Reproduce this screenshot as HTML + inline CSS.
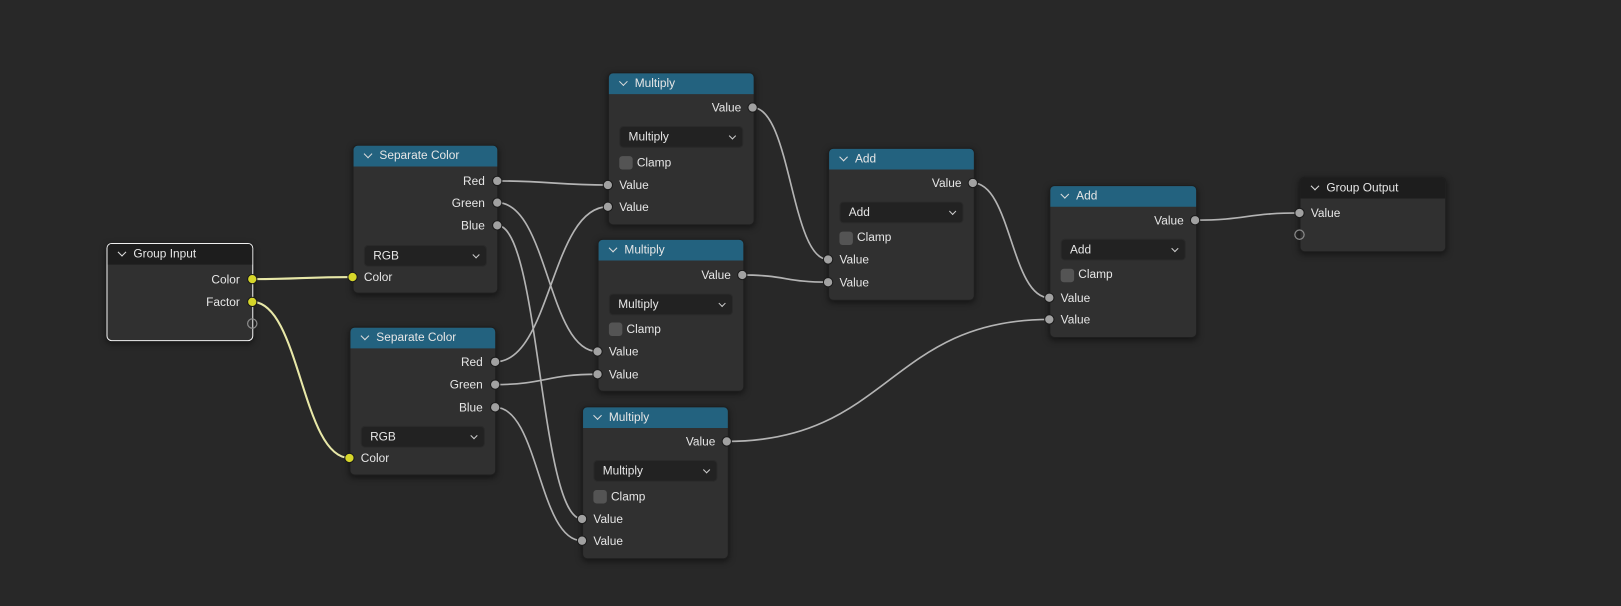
<!DOCTYPE html>
<html><head><meta charset="utf-8"><style>
body{margin:0;width:1621px;height:606px;background:#282828;overflow:hidden;font-family:"Liberation Sans","DejaVu Sans",sans-serif;font-size:11.5px;color:#e6e6e6;position:relative}
#w{position:absolute;left:0;top:0;width:1568px;height:586px;transform:scale(1.0338);transform-origin:0 0}
.n{position:absolute;background:#303030;border-radius:5px;box-shadow:0 2px 6px rgba(0,0,0,.5);border:1px solid #1e1e1e}
.h{position:absolute;left:0;right:0;top:0;height:20px;background:#23627f;border-radius:4px 4px 0 0;}
.h.g{background:#1d1d1d}
.h span{position:absolute;left:25px;top:4px;font-size:11.5px}
.h i{position:absolute;left:11px;top:5px;width:5px;height:5px;border-right:1.3px solid #ddd;border-bottom:1.3px solid #ddd;transform:rotate(45deg)}
.l{position:absolute;line-height:14px;white-space:nowrap}
.r{right:12px;text-align:right}
.in{left:10px}
.dd{position:absolute;left:10px;right:10px;height:19px;background:#222;border:1px solid #2a2a2a;border-radius:4px}
.dd span{position:absolute;left:8px;top:4px}
.dd i{position:absolute;right:7px;top:6px;width:4px;height:4px;border-right:1.2px solid #ccc;border-bottom:1.2px solid #ccc;transform:rotate(45deg)}
.cb{position:absolute;left:10px;width:13px;height:13px;background:#545454;border-radius:3px}
.sel{border:1px solid #f0f0f0}
</style></head><body><div id="w">
<svg width="1568" height="586" style="position:absolute;left:0;top:0" fill="none">
<g stroke="#e8e8a8" stroke-width="2">
<path d="M244,270 C290,270 295,268 341,268"/>
<path d="M244,292 C290,292 292,443 338,443"/>
</g>
<g stroke="#b4b4b4" stroke-width="1.6">
<path d="M481,175 C530,175 540,179 588,179"/>
<path d="M481,196 C530,196 530,340 578,340"/>
<path d="M481,218 C522,218 522,502 563,502"/>
<path d="M479,350 C533,350 533,200 588,200"/>
<path d="M479,372 C528,372 528,362 578,362"/>
<path d="M479,394 C521,394 521,523 563,523"/>
<path d="M728,104 C765,104 765,251 801,251"/>
<path d="M718,266 C760,266 760,273 801,273"/>
<path d="M941,177 C978,177 978,288 1015,288"/>
<path d="M703,427 C860,427 860,309 1015,309"/>
<path d="M1156,213 C1206,213 1206,206 1257,206"/>
</g>
</svg>

<div class="n sel" style="left:103px;top:235px;width:140px;height:93px"><div class="h g"><i></i><span>Group Input</span></div>
<div class="l r" style="top:28px">Color</div><div class="l r" style="top:50px">Factor</div></div>

<div class="n" style="left:341px;top:140px;width:139px;height:142px"><div class="h"><i></i><span>Separate Color</span></div>
<div class="l r" style="top:28px">Red</div><div class="l r" style="top:49px">Green</div><div class="l r" style="top:71px">Blue</div>
<div class="dd" style="top:96px"><span>RGB</span><i></i></div><div class="l in" style="top:121px">Color</div></div>

<div class="n" style="left:338px;top:316px;width:140px;height:142px"><div class="h"><i></i><span>Separate Color</span></div>
<div class="l r" style="top:27px">Red</div><div class="l r" style="top:49px">Green</div><div class="l r" style="top:71px">Blue</div>
<div class="dd" style="top:95px"><span>RGB</span><i></i></div><div class="l in" style="top:120px">Color</div></div>

<div class="n" style="left:588px;top:70px;width:140px;height:146px"><div class="h"><i></i><span>Multiply</span></div>
<div class="l r" style="top:27px">Value</div><div class="dd" style="top:51px"><span>Multiply</span><i></i></div>
<div class="cb" style="top:80px"></div><div class="l" style="left:27px;top:80px">Clamp</div>
<div class="l in" style="top:102px">Value</div><div class="l in" style="top:123px">Value</div></div>

<div class="n" style="left:578px;top:231px;width:140px;height:146px"><div class="h"><i></i><span>Multiply</span></div>
<div class="l r" style="top:28px">Value</div><div class="dd" style="top:52px"><span>Multiply</span><i></i></div>
<div class="cb" style="top:80px"></div><div class="l" style="left:27px;top:80px">Clamp</div>
<div class="l in" style="top:102px">Value</div><div class="l in" style="top:124px">Value</div></div>

<div class="n" style="left:563px;top:393px;width:140px;height:146px"><div class="h"><i></i><span>Multiply</span></div>
<div class="l r" style="top:27px">Value</div><div class="dd" style="top:51px"><span>Multiply</span><i></i></div>
<div class="cb" style="top:80px"></div><div class="l" style="left:27px;top:80px">Clamp</div>
<div class="l in" style="top:102px">Value</div><div class="l in" style="top:123px">Value</div></div>

<div class="n" style="left:801px;top:143px;width:140px;height:146px"><div class="h"><i></i><span>Add</span></div>
<div class="l r" style="top:27px">Value</div><div class="dd" style="top:51px"><span>Add</span><i></i></div>
<div class="cb" style="top:80px"></div><div class="l" style="left:27px;top:79px">Clamp</div>
<div class="l in" style="top:101px">Value</div><div class="l in" style="top:123px">Value</div></div>

<div class="n" style="left:1015px;top:179px;width:141px;height:146px"><div class="h"><i></i><span>Add</span></div>
<div class="l r" style="top:27px">Value</div><div class="dd" style="top:51px"><span>Add</span><i></i></div>
<div class="cb" style="top:80px"></div><div class="l" style="left:27px;top:79px">Clamp</div>
<div class="l in" style="top:102px">Value</div><div class="l in" style="top:123px">Value</div></div>

<div class="n" style="left:1257px;top:171px;width:140px;height:71px"><div class="h g"><i></i><span>Group Output</span></div>
<div class="l in" style="top:28px">Value</div></div>

<svg width="1568" height="586" style="position:absolute;left:0;top:0">
<g fill="#d6d62a" stroke="#1a1a1a" stroke-width="1">
<circle cx="244" cy="270" r="4.5"/><circle cx="244" cy="292" r="4.5"/><circle cx="341" cy="268" r="4.5"/><circle cx="338" cy="443" r="4.5"/>
</g>
<g fill="#a1a1a1" stroke="#1a1a1a" stroke-width="1">
<circle cx="481" cy="175" r="4.5"/><circle cx="481" cy="196" r="4.5"/><circle cx="481" cy="218" r="4.5"/>
<circle cx="479" cy="350" r="4.5"/><circle cx="479" cy="372" r="4.5"/><circle cx="479" cy="394" r="4.5"/>
<circle cx="728" cy="104" r="4.5"/><circle cx="588" cy="179" r="4.5"/><circle cx="588" cy="200" r="4.5"/>
<circle cx="718" cy="266" r="4.5"/><circle cx="578" cy="340" r="4.5"/><circle cx="578" cy="362" r="4.5"/>
<circle cx="703" cy="427" r="4.5"/><circle cx="563" cy="502" r="4.5"/><circle cx="563" cy="523" r="4.5"/>
<circle cx="941" cy="177" r="4.5"/><circle cx="801" cy="251" r="4.5"/><circle cx="801" cy="273" r="4.5"/>
<circle cx="1156" cy="213" r="4.5"/><circle cx="1015" cy="288" r="4.5"/><circle cx="1015" cy="309" r="4.5"/>
<circle cx="1257" cy="206" r="4.5"/>
</g>
<g fill="none" stroke="#8a8a8a" stroke-width="1.2">
<circle cx="244" cy="313" r="4.5"/><circle cx="1257" cy="227" r="4.5"/>
</g>
</svg>
</div></body></html>
